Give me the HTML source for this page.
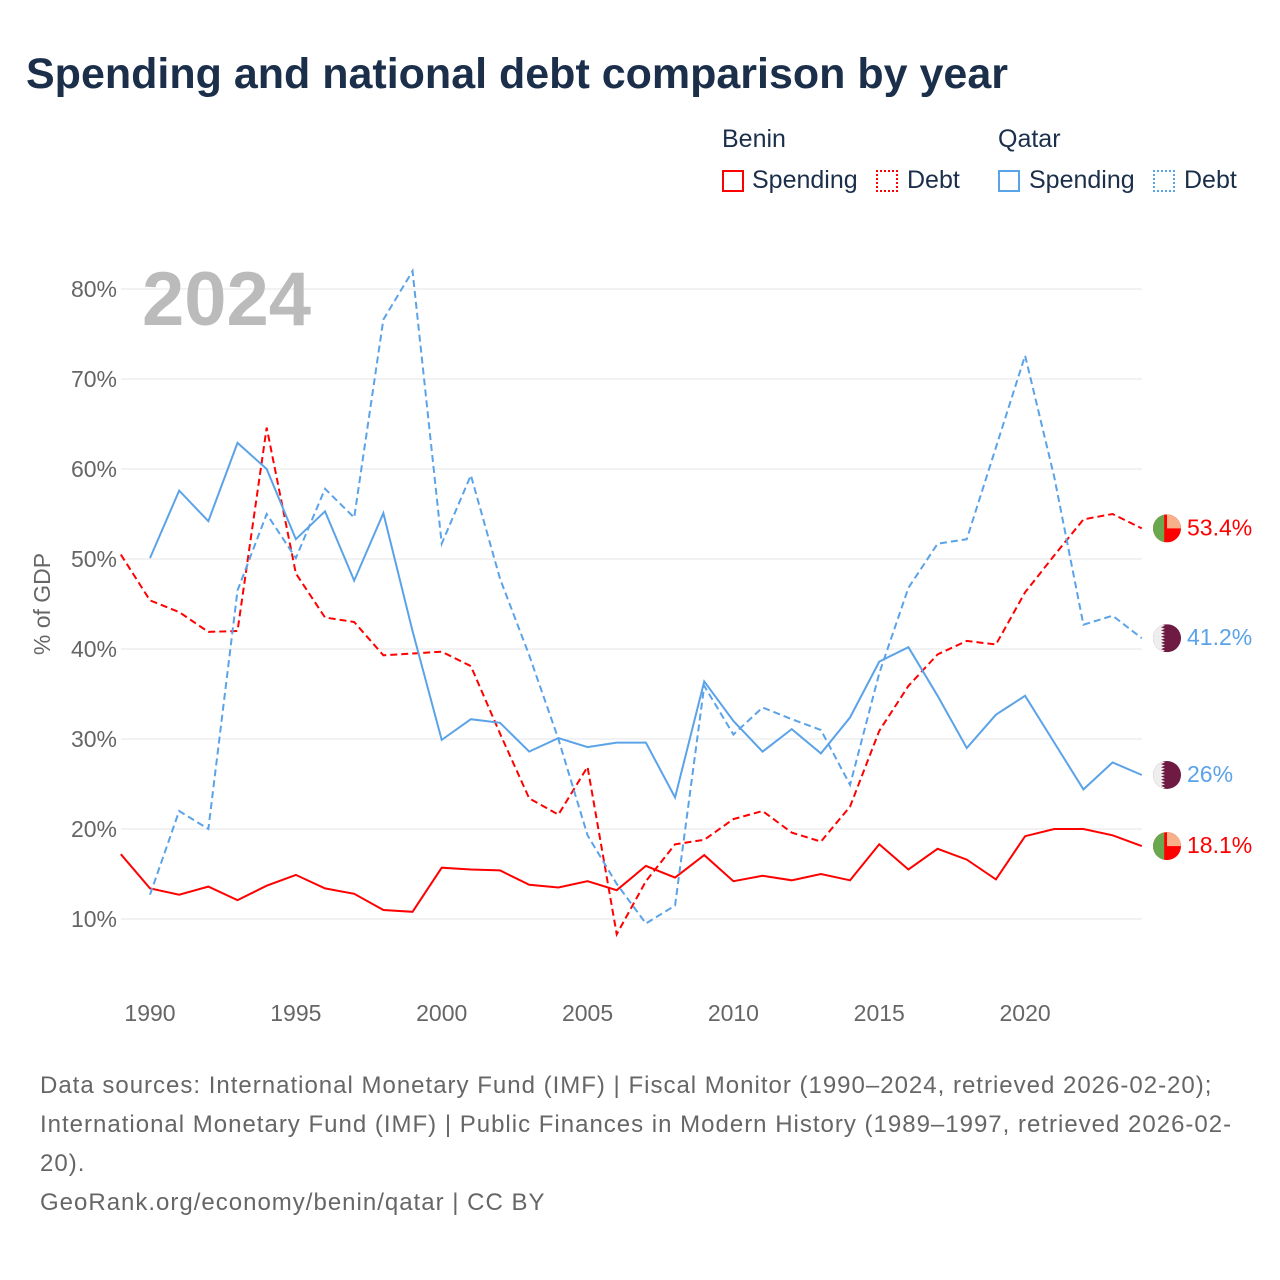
<!DOCTYPE html>
<html><head><meta charset="utf-8">
<style>
html,body{margin:0;padding:0;background:#fff;}
body{width:1280px;height:1280px;position:relative;font-family:"Liberation Sans",sans-serif;overflow:hidden;}
#title{position:absolute;left:26px;top:50px;font-size:43px;font-weight:bold;color:#1b2f4b;letter-spacing:0px;}
.lg{position:absolute;font-size:25px;color:#1b2f4b;}
.sw{position:absolute;width:22px;height:22px;box-sizing:border-box;}
#foot{position:absolute;left:40px;top:1066px;font-size:24px;line-height:39px;color:#666;width:1232px;letter-spacing:1.0px;}
</style></head><body>
<div id="title">Spending and national debt comparison by year</div>
<div class="lg" style="left:722px;top:125px">Benin</div>
<div class="lg" style="left:998px;top:125px">Qatar</div>
<div class="sw" style="left:722px;top:170px;border:2px solid #f00"></div>
<div class="lg" style="left:752px;top:166px">Spending</div>
<div class="sw" style="left:876px;top:170px;border:2px dotted #f00"></div>
<div class="lg" style="left:907px;top:166px">Debt</div>
<div class="sw" style="left:998px;top:170px;border:2px solid #5ba3e8"></div>
<div class="lg" style="left:1029px;top:166px">Spending</div>
<div class="sw" style="left:1153px;top:170px;border:2px dotted #5ba3e8"></div>
<div class="lg" style="left:1184px;top:166px">Debt</div>

<svg id="chart" width="1280" height="1280" style="position:absolute;left:0;top:0"></svg>

<div id="foot">Data sources: International Monetary Fund (IMF) | Fiscal Monitor (1990–2024, retrieved 2026-02-20); International Monetary Fund (IMF) | Public Finances in Modern History (1989–1997, retrieved 2026-02-20).<br>GeoRank.org/economy/benin/qatar | CC BY</div>

<script>
const yTicks=[10,20,30,40,50,60,70,80];
const xTicks=[1990,1995,2000,2005,2010,2015,2020];
const beninYears=[1989,1990,1991,1992,1993,1994,1995,1996,1997,1998,1999,2000,2001,2002,2003,2004,2005,2006,2007,2008,2009,2010,2011,2012,2013,2014,2015,2016,2017,2018,2019,2020,2021,2022,2023,2024];
const beninSpending=[17.2,13.4,12.7,13.6,12.1,13.7,14.9,13.4,12.8,11.0,10.8,15.7,15.5,15.4,13.8,13.5,14.2,13.2,15.9,14.6,17.1,14.2,14.8,14.3,15.0,14.3,18.3,15.5,17.8,16.6,14.4,19.2,20.0,20.0,19.3,18.1];
const beninDebt=[50.5,45.4,44.1,41.9,42.0,64.6,48.4,43.5,43.0,39.3,39.5,39.7,38.1,30.6,23.4,21.6,26.9,8.3,14.2,18.3,18.8,21.1,22.0,19.6,18.6,22.5,30.9,35.9,39.4,40.9,40.5,46.3,50.4,54.4,55.0,53.4];
const qatarYears=[1990,1991,1992,1993,1994,1995,1996,1997,1998,1999,2000,2001,2002,2003,2004,2005,2006,2007,2008,2009,2010,2011,2012,2013,2014,2015,2016,2017,2018,2019,2020,2021,2022,2023,2024];
const qatarSpending=[50.1,57.6,54.2,62.9,60.0,52.2,55.3,47.6,55.1,42.0,29.9,32.2,31.8,28.6,30.1,29.1,29.6,29.6,23.5,36.4,32.0,28.6,31.1,28.4,32.4,38.6,40.2,34.8,29.0,32.7,34.8,29.6,24.4,27.4,26.0];
const qatarDebt=[12.7,22.0,20.0,46.5,55.0,50.1,57.8,54.6,76.6,82.0,51.7,59.3,47.8,39.3,30.0,19.3,13.9,9.5,11.5,35.9,30.5,33.5,32.2,31.0,24.9,37.3,46.8,51.7,52.2,62.4,72.6,59.1,42.7,43.7,41.2];

const X=y=>150+(y-1990)*29.17;
const Y=v=>919-(v-10)*9;
const svg=document.getElementById('chart');
const NS='http://www.w3.org/2000/svg';
function mk(t,a){const e=document.createElementNS(NS,t);for(const k in a)e.setAttribute(k,a[k]);svg.appendChild(e);return e;}

yTicks.forEach(v=>{
  const g=mk('line',{x1:121,x2:1142,y1:Y(v),y2:Y(v),stroke:'#e6e6e6','stroke-width':1});
  
  
  const t=mk('text',{x:117,y:Y(v)+8,'text-anchor':'end','font-size':23,fill:'#666','font-family':'Liberation Sans, sans-serif'});
  t.textContent=v+'%';
  
  
});
xTicks.forEach(y=>{
  const t=mk('text',{x:X(y),y:1021,'text-anchor':'middle','font-size':23,fill:'#666','font-family':'Liberation Sans, sans-serif'});
  t.textContent=y;
  
  
});
const yt=mk('text',{x:0,y:0,transform:'translate(50,604) rotate(-90)','text-anchor':'middle','font-size':23,fill:'#666','font-family':'Liberation Sans, sans-serif'});
yt.textContent='% of GDP';


const yr=mk('text',{x:142,y:325,'font-size':76,'font-weight':'bold',fill:'#bbb','font-family':'Liberation Sans, sans-serif'});
yr.textContent='2024';



function line(years,vals,color,dash,name){
  const p=mk('polyline',{points:years.map((y,i)=>X(y)+','+Y(vals[i])).join(' '),fill:'none',stroke:color,'stroke-width':2,'stroke-dasharray':dash||'none'});
  
  
}
line(beninYears,beninSpending,'#f00',null,'benin-spending-line');
line(beninYears,beninDebt,'#f00','7,4','benin-debt-line');
line(qatarYears,qatarSpending,'#5ba3e8',null,'qatar-spending-line');
line(qatarYears,qatarDebt,'#5ba3e8','7,4','qatar-debt-line');

function benin(cy,name){
  const g=mk('g',{});
  
  
  const cx=1167,r=14;
  g.innerHTML=`<clipPath id="c${name}"><circle cx="${cx}" cy="${cy}" r="${r}"/></clipPath>
  <g clip-path="url(#c${name})"><rect x="${cx-r}" y="${cy-r}" width="${r*2}" height="${r*2}" fill="#f00"/>
  <rect x="${cx}" y="${cy-r}" width="${r}" height="${r}" fill="#f7b08a"/>
  <rect x="${cx-r}" y="${cy-r}" width="${r*0.8}" height="${r*2}" fill="#6aa84f"/></g>`;
}
function qatar(cy,name){
  const g=mk('g',{});
  
  
  const cx=1167,r=14;
  let pts=`${cx-r},${cy-r} `;
  for(let i=0;i<9;i++){pts+=`${cx-6},${cy-r+i*28/9} ${cx-2},${cy-r+(i+0.5)*28/9} `;}
  pts+=`${cx-6},${cy+r} ${cx-r},${cy+r}`;
  g.innerHTML=`<clipPath id="c${name}"><circle cx="${cx}" cy="${cy}" r="${r}"/></clipPath>
  <g clip-path="url(#c${name})"><rect x="${cx-r}" y="${cy-r}" width="${r*2}" height="${r*2}" fill="#6e1a42"/>
  <polygon points="${pts}" fill="#eee"/></g>`;
}
function endLabel(v,color,name){
  const t=mk('text',{x:1187,y:Y(v)+7,'font-size':23,fill:color,'font-family':'Liberation Sans, sans-serif'});
  t.textContent=(Math.round(v*10)/10)+'%';
  
  
}
const bd=beninDebt[beninDebt.length-1], bs=beninSpending[beninSpending.length-1];
const qd=qatarDebt[qatarDebt.length-1], qs=qatarSpending[qatarSpending.length-1];
benin(Y(bd),'benin-debt-flag');endLabel(bd,'#f00','benin-debt-end-label');
benin(Y(bs),'benin-spending-flag');endLabel(bs,'#f00','benin-spending-end-label');
qatar(Y(qd),'qatar-debt-flag');endLabel(qd,'#5ba3e8','qatar-debt-end-label');
qatar(Y(qs),'qatar-spending-flag');endLabel(qs,'#5ba3e8','qatar-spending-end-label');
</script>
</body></html>
